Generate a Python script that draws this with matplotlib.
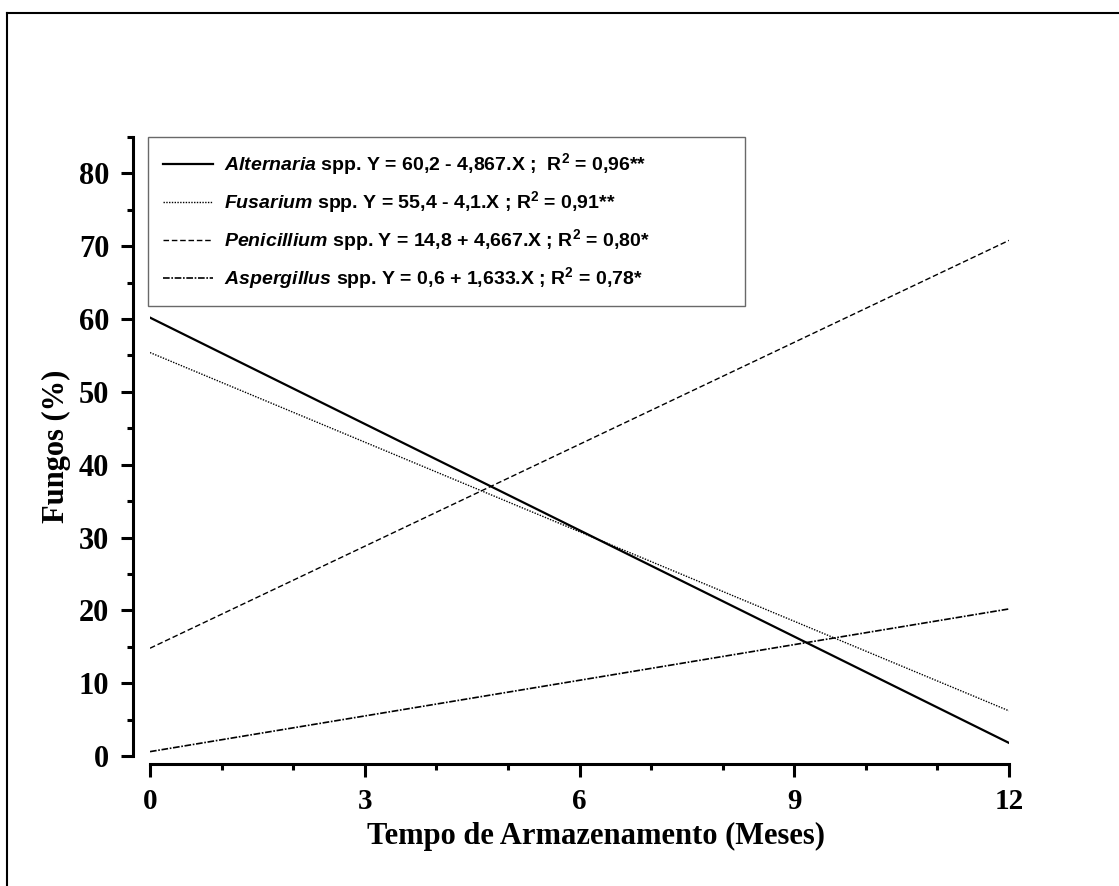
import matplotlib
matplotlib.use("Agg")
import matplotlib.pyplot as plt
from matplotlib.lines import Line2D
import numpy as np

# Data
months = [0, 12]
species = ["Alternaria", "Fusarium", "Penicillium", "Aspergillus"]
intercepts = [60.2, 55.4, 14.8, 0.6]
slopes = [-4.867, -4.1, 4.667, 1.633]
equations = ["Y = 60,2 - 4,867.X ;  R$^{2}$ = 0,96**",
             "Y = 55,4 - 4,1.X ; R$^{2}$ = 0,91**",
             "Y = 14,8 + 4,667.X ; R$^{2}$ = 0,80*",
             "Y = 0,6 + 1,633.X ; R$^{2}$ = 0,78*"]
xticks = [0, 3, 6, 9, 12]
yticks = [0, 10, 20, 30, 40, 50, 60, 70, 80]

plt.rcParams['mathtext.fontset'] = 'custom'
plt.rcParams['mathtext.it'] = 'Liberation Sans:italic:bold'
plt.rcParams['mathtext.rm'] = 'Liberation Sans:bold'
plt.rcParams['mathtext.bf'] = 'Liberation Sans:bold'

W, H = 1119, 886
fig = plt.figure(figsize=(W / 100, H / 100), dpi=100)
ax = fig.add_axes([150 / W, 1 - 756 / H, 859 / W, (756 - 137) / H])

styles = [dict(ls='-', lw=1.6),
          dict(ls=(0, (1, 1)), lw=1.0),
          dict(ls=(0, (4, 2)), lw=1.0),
          dict(ls=(0, (4, 1, 1, 1)), lw=1.2)]

for sp, a, b, eq, st in zip(species, intercepts, slopes, equations, styles):
    ys = [a + b * m for m in months]
    ax.plot(months, ys, color='black', label=r"$\mathit{" + sp + "}$ spp. " + eq, **st)

ax.set_xlim(0, 12)
ax.set_ylim(0, 85)
ax.spines['top'].set_visible(False)
ax.spines['right'].set_visible(False)
ax.spines['left'].set_position(('outward', 12.2))
ax.spines['bottom'].set_position(('outward', 5.8))
ax.spines['left'].set_linewidth(2.2)
ax.spines['bottom'].set_linewidth(2.2)
ax.spines['bottom'].set_bounds(0, 12)
ax.spines['left'].set_bounds(0, 85)

ax.set_xticks(xticks)
ax.set_xticks(np.arange(0, 13, 1), minor=True)
ax.set_yticks(yticks)
ax.set_yticks(np.arange(0, 86, 5), minor=True)
ax.tick_params(which='major', length=9, width=2.2, direction='out')
ax.tick_params(which='minor', length=4.5, width=2.2, direction='out')
ax.tick_params(axis='y', which='major', pad=8)
ax.tick_params(axis='x', which='major', pad=8)

for lab in ax.get_yticklabels():
    lab.set_fontfamily('Liberation Serif')
    lab.set_fontweight('bold')
    lab.set_fontsize(22)
for lab in ax.get_xticklabels():
    lab.set_fontfamily('Liberation Serif')
    lab.set_fontweight('bold')
    lab.set_fontsize(21)

# x axis title placed at its baseline
fig.text(596 / W, 1 - 844 / H, "Tempo de Armazenamento (Meses)", family='Liberation Serif',
         weight='bold', fontsize=22, ha='center', va='baseline')
ax.set_ylabel("Fungos (%)", family='Liberation Serif', weight='bold',
              fontsize=22, labelpad=6)

x0 = -2 / 859
wd = (745 - 148) / 859
y0 = (756 - 305) / 619
leg = ax.legend(loc='upper left', bbox_to_anchor=(x0, y0, wd, 1 - y0), mode='expand',
                prop={'family': 'Liberation Sans', 'weight': 'bold', 'size': 14},
                handlelength=2.6, handletextpad=0.55, labelspacing=0.62,
                borderpad=0.75, borderaxespad=0, fancybox=False, frameon=True)
leg._legend_box.align = 'left'
leg.get_frame().set_edgecolor('#444444')
leg.get_frame().set_linewidth(1.0)

# figure border lines (top and left)
fig.add_artist(Line2D([7 / W, 1], [1 - 13 / H, 1 - 13 / H], color='black', lw=1.5,
                      transform=fig.transFigure))
fig.add_artist(Line2D([7 / W, 7 / W], [0, 1 - 13 / H], color='black', lw=1.5,
                      transform=fig.transFigure))

fig.savefig("out.png", dpi=100)
